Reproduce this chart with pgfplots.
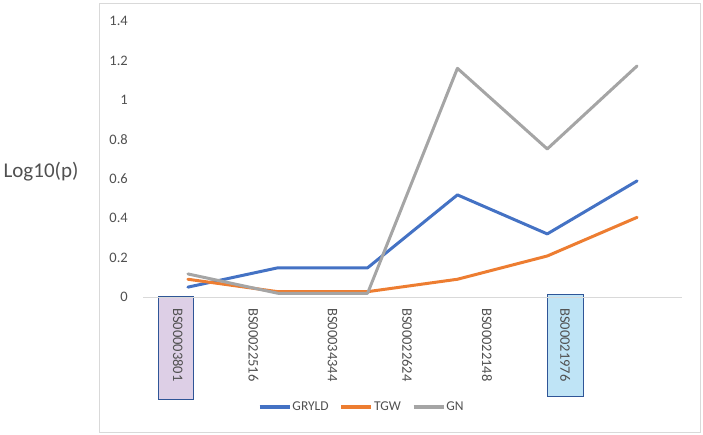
\documentclass[border=0pt]{standalone}
\usepackage{fontspec}
\setmainfont{Carlito}
\usepackage{pgfplots}
\pgfplotsset{compat=1.18}

\definecolor{xblue}{HTML}{4472C4}
\definecolor{xorange}{HTML}{ED7D31}
\definecolor{xgray}{HTML}{A5A5A5}
\definecolor{txtgray}{HTML}{505050}
\definecolor{framegray}{HTML}{D9D9D9}
\definecolor{boxedge}{HTML}{2F5597}
\definecolor{boxpurple}{HTML}{DDCFE6}
\definecolor{boxcyan}{HTML}{BFE4F6}

\begin{document}
\begin{tikzpicture}
\useasboundingbox (0pt,0pt) rectangle (703pt,435pt);
% chart frame
\draw[framegray, line width=0.8pt] (99pt,3pt) rectangle (700pt,432pt);
% y label outside frame
\node[font=\fontsize{21}{24}\selectfont, text=txtgray] at (41pt,263pt) {Log10(p)};
% highlight boxes behind first and last marker names
\draw[boxedge, fill=boxpurple, line width=1pt] (158pt,35pt) rectangle (193pt,138pt);
\draw[boxedge, fill=boxcyan, line width=1pt] (547pt,38pt) rectangle (583pt,140pt);

\begin{axis}[
  at={(143pt,138pt)}, anchor=south west,
  scale only axis, width=539pt, height=276pt,
  xmin=-0.5, xmax=5.5, ymin=0, ymax=1.4,
  clip=false,
  axis line style={draw=none},
  major tick length=0pt,
  /pgf/number format/assume math mode=true,
  ytick={0,0.2,0.4,0.6,0.8,1,1.2,1.4},
  yticklabel style={font=\fontsize{14.5}{16}\selectfont, text=txtgray,
    anchor=east, inner sep=0pt, xshift=-15pt},
  xtick={-0.11,0.73,1.61,2.44,3.33,4.2},
  xticklabels={BS00003801,BS00022516,BS00034344,BS00022624,BS00022148,BS00021976},
  xticklabel style={font=\fontsize{14.5}{16}\selectfont, text=txtgray,
    inner sep=0pt, yshift=-11pt, rotate=-90, anchor=west},
  legend columns=3,
  legend style={draw=none, fill=none, at={(0.405,-0.399)}, anchor=center,
    font=\fontsize{13.5}{15}\selectfont, text=txtgray,
    nodes={inner sep=1pt},
    /tikz/every even column/.append style={column sep=10pt}},
  legend image code/.code={\draw[#1, line width=3.5pt, line cap=butt] (0pt,0pt) -- (30pt,0pt);},
  every axis plot/.append style={line width=3pt, line join=round, line cap=round},
]
\draw[framegray, line width=0.8pt] (axis cs:-0.5,0) -- (axis cs:5.5,0);
\addplot[xblue] coordinates {(0,0.05) (1,0.148) (2,0.148) (3,0.518) (4,0.32) (5,0.589)};
\addplot[xorange] coordinates {(0,0.09) (1,0.027) (2,0.027) (3,0.09) (4,0.208) (5,0.404)};
\addplot[xgray] coordinates {(0,0.117) (1,0.019) (2,0.019) (3,1.16) (4,0.751) (5,1.172)};
\legend{GRYLD,TGW,GN}
\end{axis}
\end{tikzpicture}
\end{document}
